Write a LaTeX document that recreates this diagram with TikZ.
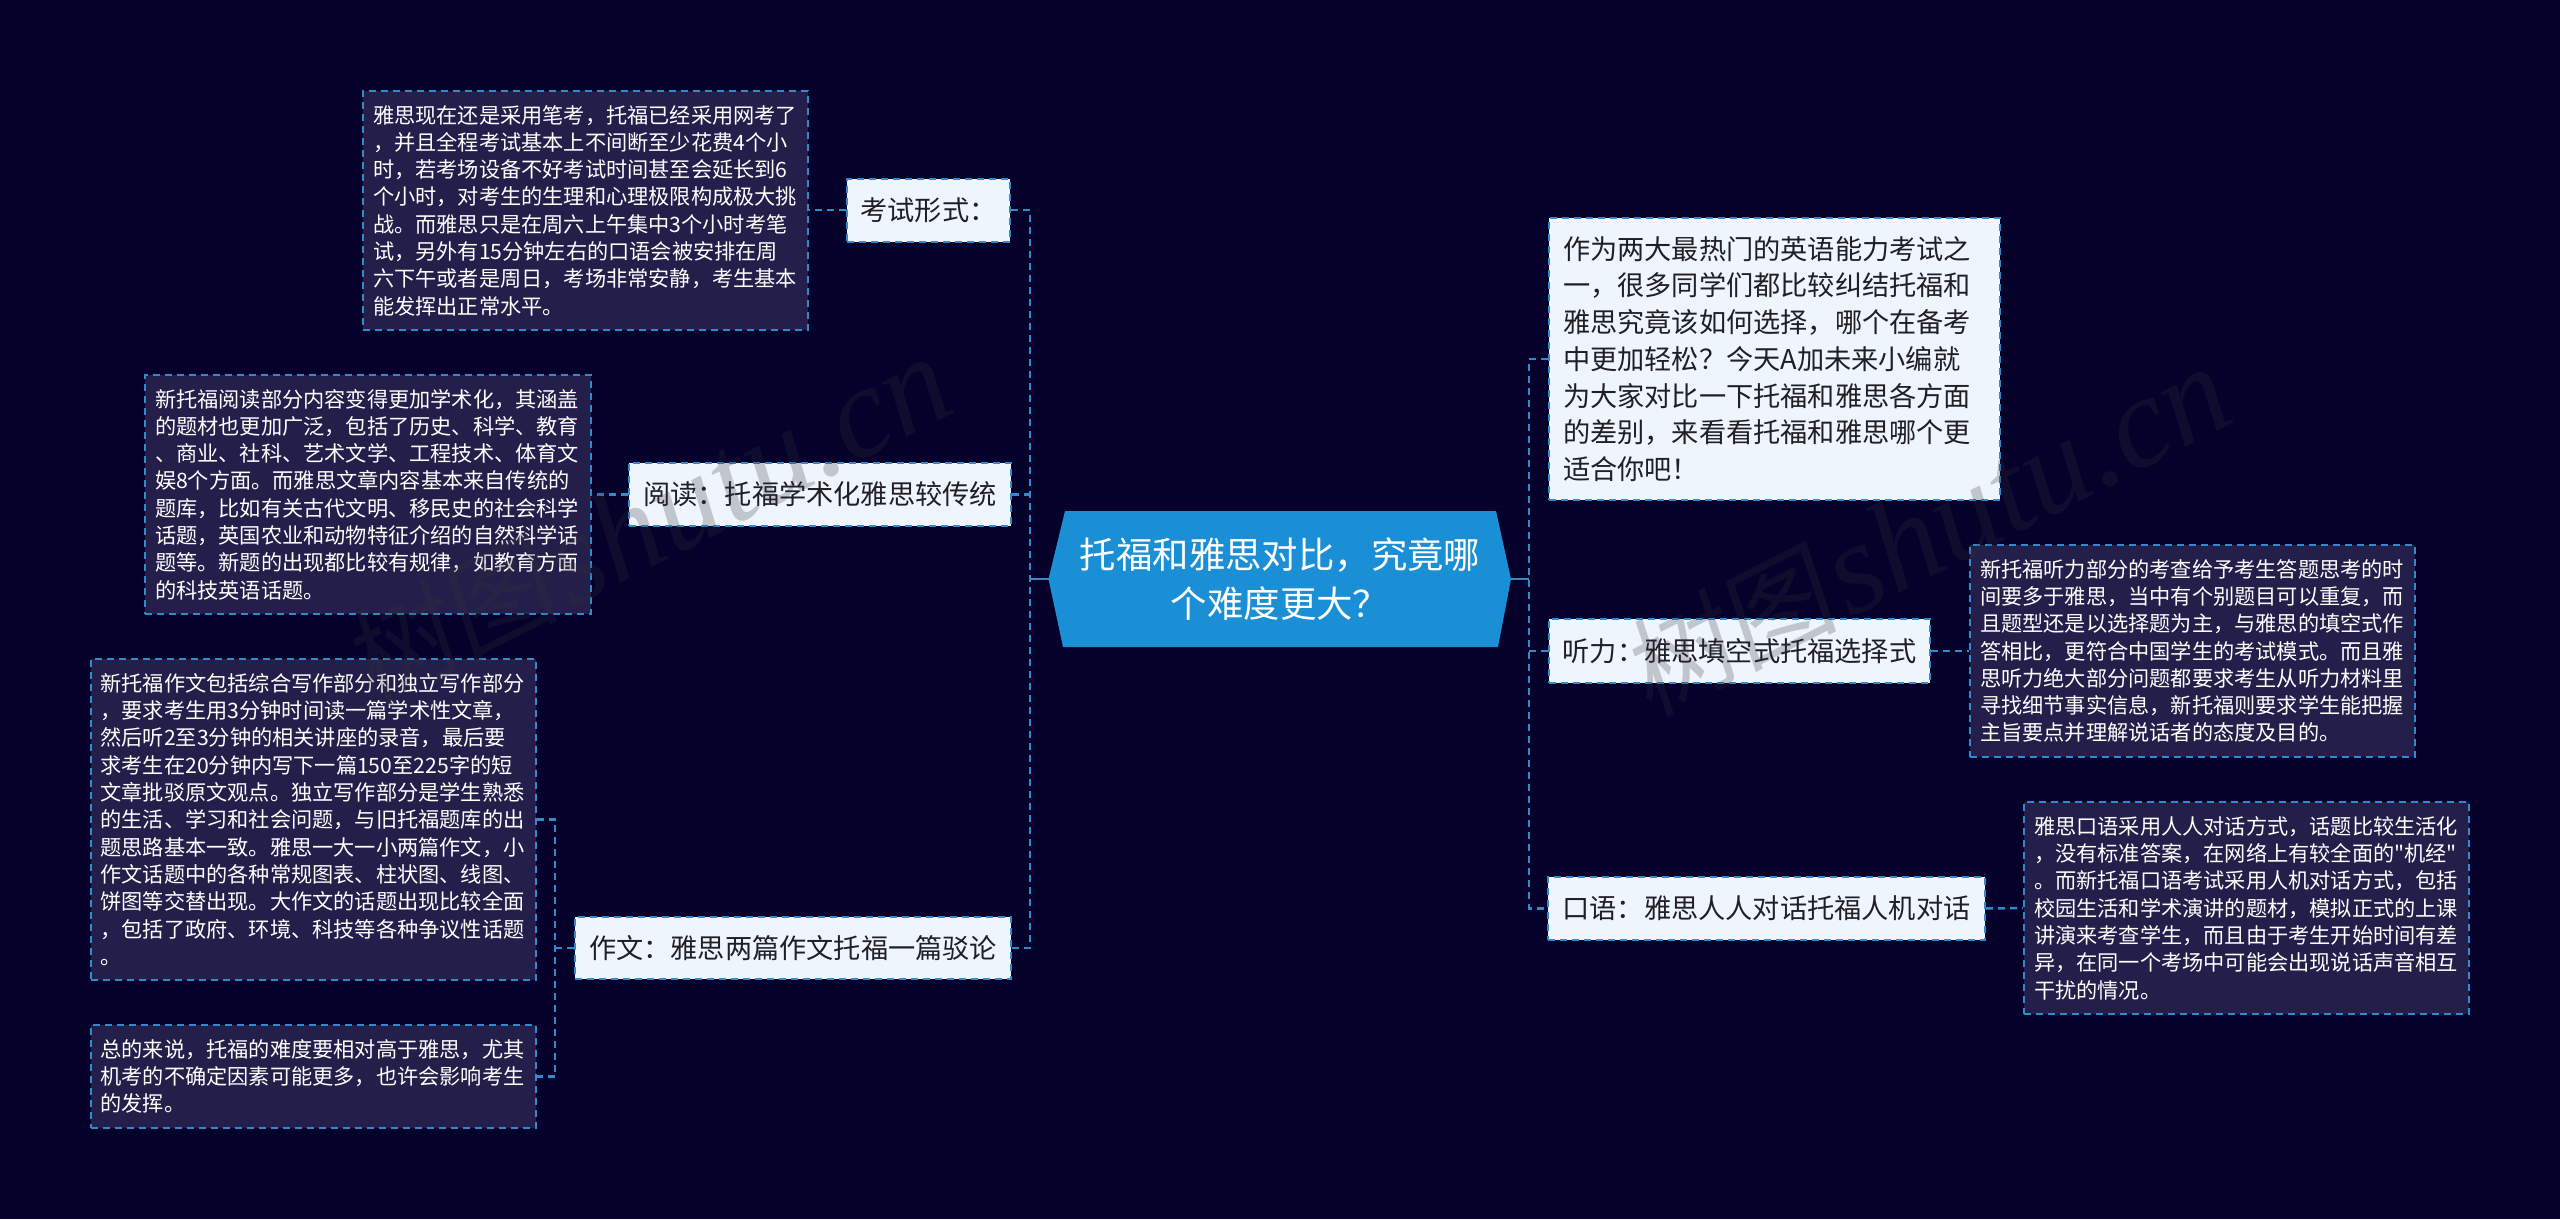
\documentclass[tikz,border=0pt]{standalone}
\usepackage{fontspec}
\setmainfont{Noto Sans CJK SC}
\newfontfamily\wmlatin{Liberation Serif}
\newfontfamily\wmcjk[FakeSlant=0.15]{Noto Sans CJK SC}
\newfontfamily\plainq{Noto Sans CJK SC}
\newcommand\zc{\char"FF0C\relax}
\newcommand\zm{\char"FF1A\relax}
\newcommand\zq{\char"FF1F\relax}
\newcommand\ze{\char"FF01\relax}
\newcommand\zd{{\plainq\char"22\relax}}
\definecolor{bgc}{HTML}{05012B}
\definecolor{detailc}{HTML}{231F4A}
\definecolor{linec}{HTML}{2F8BCB}
\definecolor{branchc}{HTML}{EFF5FD}
\definecolor{rootc}{HTML}{1A8FD5}
\definecolor{inkc}{HTML}{1F1F24}
\definecolor{wmc}{HTML}{303038}
\tikzset{
  x=1pt,y=-1pt,
  linkd/.style={draw=linec,line width=2.5pt,dash pattern=on 7pt off 5pt},
  links/.style={draw=linec,line width=2.5pt},
  detailbox/.style={rectangle,draw=linec,line width=2pt,dash pattern=on 7pt off 5pt,fill=detailc,text=white,align=left,inner xsep=10pt,inner ysep=0pt,font=\fontsize{21.2}{27.3}\selectfont},
  branchbox/.style={rectangle,draw=linec,line width=2pt,dash pattern=on 7pt off 5pt,fill=branchc,text=inkc,align=center,inner sep=0pt,font=\fontsize{27.2}{36.7}\selectfont},
  rootbox/.style={fill=rootc,draw=none},
  roottext/.style={text=white,align=center,inner sep=0pt,font=\fontsize{36.4}{49}\selectfont},
  wm/.style={text=wmc,opacity=0.24,rotate=27,inner sep=0pt}
}
\begin{document}
\begin{tikzpicture}
\useasboundingbox[fill=bgc] (0,0) rectangle (2560,1219);
% root
\coordinate (rl) at (1048.5,579);
\coordinate (rr) at (1511,579);
\fill[rootbox] (rl) -- (1065,511) -- (1496,511) -- (rr) -- (1498,647) -- (1063,647) -- cycle;
\node[roottext] (root) at (1280,579) {托福和雅思对比\zc{}究竟哪\\个难度更大\zq{}};
% branches
\node[branchbox,minimum width=163pt,minimum height=63pt] (b1) at (928.5,210) {考试形式\zm{}};
\node[branchbox,minimum width=382pt,minimum height=63pt] (b2) at (820,494.5) {阅读\zm{}托福学术化雅思较传统};
\node[branchbox,minimum width=436pt,minimum height=62pt] (b3) at (793,948) {作文\zm{}雅思两篇作文托福一篇驳论};
\node[branchbox,minimum width=451pt,minimum height=282pt,text width=423pt,align=left] (r1) at (1774.5,359) {作为两大最热门的英语能力考试之\\一\zc{}很多同学们都比较纠结托福和\\雅思究竟该如何选择\zc{}哪个在备考\\中更加轻松\zq{}今天A加未来小编就\\为大家对比一下托福和雅思各方面\\的差别\zc{}来看看托福和雅思哪个更\\适合你吧\ze{}};
\node[branchbox,minimum width=381pt,minimum height=64pt] (r2) at (1739.5,651) {听力\zm{}雅思填空式托福选择式};
\node[branchbox,minimum width=437pt,minimum height=63pt] (r3) at (1766.5,908.5) {口语\zm{}雅思人人对话托福人机对话};
% details
\node[detailbox,minimum width=445pt,minimum height=239pt,text width=425pt] (d1) at (585.5,210.5) {雅思现在还是采用笔考\zc{}托福已经采用网考了\\\zc{}并且全程考试基本上不间断至少花费4个小\\时\zc{}若考场设备不好考试时间甚至会延长到6\\个小时\zc{}对考生的生理和心理极限构成极大挑\\战。而雅思只是在周六上午集中3个小时考笔\\试\zc{}另外有15分钟左右的口语会被安排在周\\六下午或者是周日\zc{}考场非常安静\zc{}考生基本\\能发挥出正常水平。};
\node[detailbox,minimum width=446pt,minimum height=239pt,text width=426pt] (d2) at (368,494.5) {新托福阅读部分内容变得更加学术化\zc{}其涵盖\\的题材也更加广泛\zc{}包括了历史、科学、教育\\、商业、社科、艺术文学、工程技术、体育文\\娱8个方面。而雅思文章内容基本来自传统的\\题库\zc{}比如有关古代文明、移民史的社会科学\\话题\zc{}英国农业和动物特征介绍的自然科学话\\题等。新题的出现都比较有规律\zc{}如教育方面\\的科技英语话题。};
\node[detailbox,minimum width=445pt,minimum height=321pt,text width=425pt] (d3) at (313,819.5) {新托福作文包括综合写作部分和独立写作部分\\\zc{}要求考生用3分钟时间读一篇学术性文章\zc{}\\然后听2至3分钟的相关讲座的录音\zc{}最后要\\求考生在20分钟内写下一篇150至225字的短\\文章批驳原文观点。独立写作部分是学生熟悉\\的生活、学习和社会问题\zc{}与旧托福题库的出\\题思路基本一致。雅思一大一小两篇作文\zc{}小\\作文话题中的各种常规图表、柱状图、线图、\\饼图等交替出现。大作文的话题出现比较全面\\\zc{}包括了政府、环境、科技等各种争议性话题\\。};
\node[detailbox,minimum width=445pt,minimum height=103pt,text width=425pt] (d4) at (313,1076.5) {总的来说\zc{}托福的难度要相对高于雅思\zc{}尤其\\机考的不确定因素可能更多\zc{}也许会影响考生\\的发挥。};
\node[detailbox,minimum width=445pt,minimum height=212pt,text width=425pt] (d5) at (2192.5,651) {新托福听力部分的考查给予考生答题思考的时\\间要多于雅思\zc{}当中有个别题目可以重复\zc{}而\\且题型还是以选择题为主\zc{}与雅思的填空式作\\答相比\zc{}更符合中国学生的考试模式。而且雅\\思听力绝大部分问题都要求考生从听力材料里\\寻找细节事实信息\zc{}新托福则要求学生能把握\\主旨要点并理解说话者的态度及目的。};
\node[detailbox,minimum width=445pt,minimum height=212pt,text width=425pt] (d6) at (2246.5,908) {雅思口语采用人人对话方式\zc{}话题比较生活化\\\zc{}没有标准答案\zc{}在网络上有较全面的\zd{}机经\zd{}\\。而新托福口语考试采用人机对话方式\zc{}包括\\校园生活和学术演讲的题材\zc{}模拟正式的上课\\讲演来考查学生\zc{}而且由于考生开始时间有差\\异\zc{}在同一个考场中可能会出现说话声音相互\\干扰的情况。};
% trunks
\coordinate (lt) at (1030,579);
\coordinate (rt) at (1529,579);
\coordinate (j3) at (555,948);
\draw[links] (rl) -- (lt);
\draw[links] (rr) -- (rt);
\draw[linkd] (b1.east) -- (b1.east -| lt) -- (b3.east -| lt) -- (b3.east);
\draw[linkd] (b2.east) -- (b2.east -| lt);
\draw[linkd] (r1.west) -- (r1.west -| rt) -- (r3.west -| rt) -- (r3.west);
\draw[linkd] (r2.west) -- (r2.west -| rt);
\draw[linkd] (b1.west) -- (d1.east |- b1.west);
\draw[linkd] (b2.west) -- (d2.east |- b2.west);
\draw[linkd] (b3.west) -- (j3);
\draw[linkd] (d3.east) -- (d3.east -| j3) -- (d4.east -| j3) -- (d4.east);
\draw[linkd] (r2.east) -- (d5.west);
\draw[linkd] (r3.east) -- (d6.west);
% watermarks
\node[wm,font={\fontsize{108}{108}\wmcjk\selectfont}] (w1a) at (448,622) {树图};
\node[wm,font={\fontsize{130}{130}\wmlatin\itshape\selectfont}] (w1b) at (746,470) {shutu.cn};
\node[wm,font={\fontsize{108}{108}\wmcjk\selectfont}] (w2a) at (1727,632) {树图};
\node[wm,font={\fontsize{130}{130}\wmlatin\itshape\selectfont}] (w2b) at (2025,480) {shutu.cn};
\end{tikzpicture}
\end{document}
